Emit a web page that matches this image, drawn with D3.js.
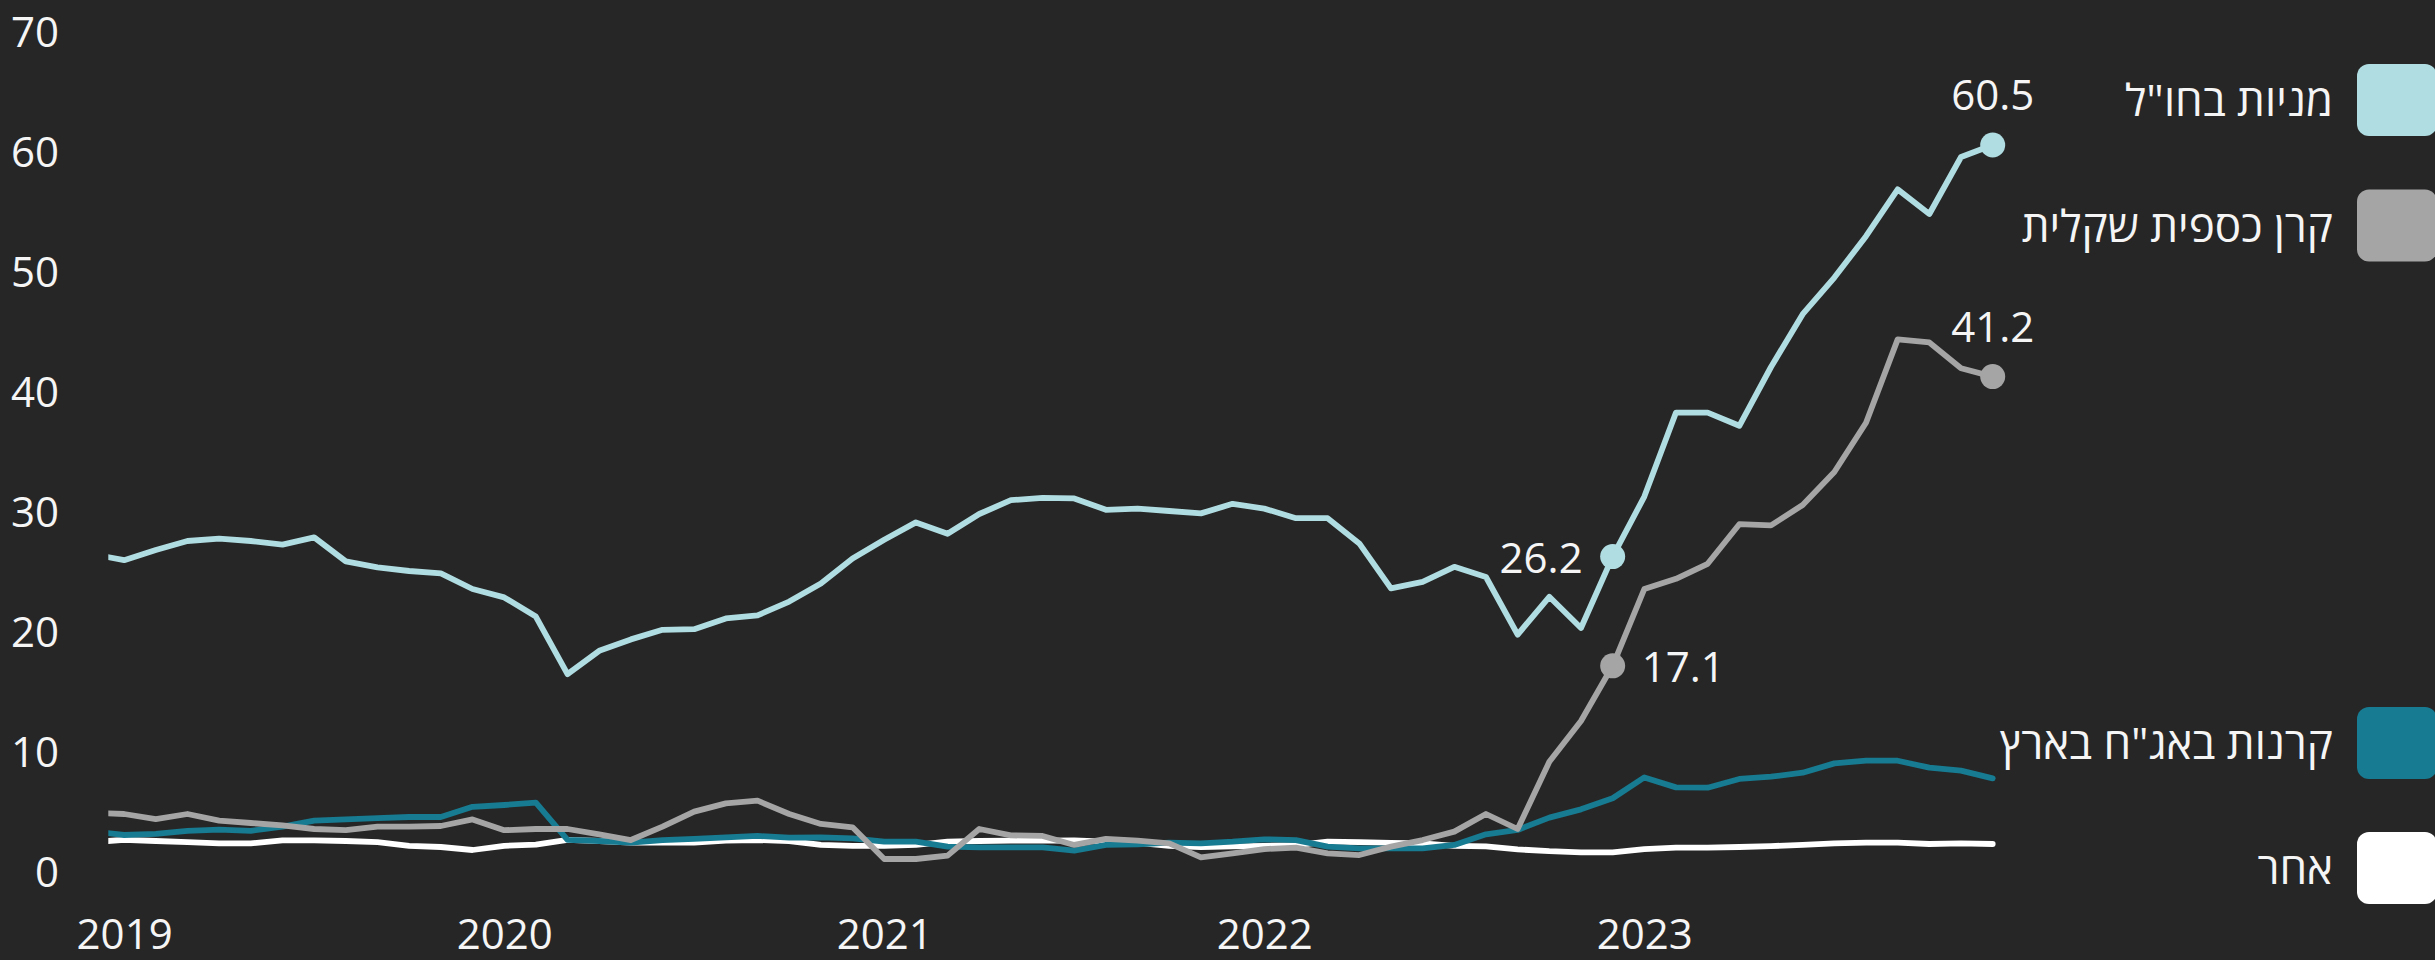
<!DOCTYPE html>
<html>
  <head>
    <meta charset="utf-8">
    <script src="https://d3js.org/d3.v7.min.js"></script>
    <style>
        body {
            margin: 0;
            background: #262626;
        }
        text {
            font-family: "Open Sans", "DejaVu Sans", sans-serif;
            fill: #f5f5f5;
        }
        .series {
            fill: none;
            stroke-width: 5.8px;
            stroke-linejoin: round;
            stroke-linecap: round;
        }
    </style>
  </head>
  <body>
    <div id="chart"></div>
<script>

// months Dec 2018 .. Dec 2023 (index -1 .. 59)
var months = d3.range(-1, 60);
var yearTicks = [0, 12, 24, 36, 48];
var yearLabels = ["2019", "2020", "2021", "2022", "2023"];
var yTicks = [0, 10, 20, 30, 40, 50, 60, 70];

var seriesNames = ['מניות בחו"ל', "קרן כספית שקלית", 'קרנות באג"ח בארץ', "אחר"];
var seriesColors = ["#b0dde2", "#a5a5a5", "#177b91", "#ffffff"];

var foreignStocks = [26.4,
  25.9, 26.75, 27.5, 27.7, 27.5, 27.2, 27.8, 25.8, 25.3, 25.0, 24.8, 23.5,
  22.8, 21.2, 16.4, 18.35, 19.3, 20.1, 20.15, 21.05, 21.3, 22.45, 23.95, 26.05,
  27.6, 29.05, 28.1, 29.75, 30.9, 31.1, 31.05, 30.1, 30.2, 30.0, 29.8, 30.6,
  30.2, 29.4, 29.4, 27.3, 23.55, 24.1, 25.35, 24.5, 19.7, 22.85, 20.25, 26.2,
  31.2, 38.2, 38.2, 37.1, 42.0, 46.4, 49.45, 52.9, 56.8, 54.75, 59.5, 60.5];

var moneyMarket = [4.85,
  4.75, 4.33, 4.75, 4.2, 4.0, 3.8, 3.5, 3.4, 3.7, 3.7, 3.75, 4.3,
  3.4, 3.5, 3.5, 3.05, 2.58, 3.7, 4.95, 5.64, 5.86, 4.75, 3.92, 3.64,
  1.0, 1.0, 1.28, 3.5, 2.97, 2.92, 2.17, 2.67, 2.53, 2.31, 1.14, 1.47,
  1.83, 1.94, 1.47, 1.33, 2.03, 2.58, 3.28, 4.75, 3.5, 9.1, 12.5, 17.1,
  23.5, 24.35, 25.6, 28.9, 28.8, 30.5, 33.25, 37.35, 44.3, 44.05, 41.9, 41.2];

var localBonds = [3.3,
  3.0, 3.1, 3.35, 3.45, 3.35, 3.7, 4.2, 4.3, 4.4, 4.5, 4.5, 5.35,
  5.5, 5.7, 2.6, 2.5, 2.36, 2.58, 2.67, 2.8, 2.92, 2.78, 2.8, 2.72,
  2.44, 2.44, 2.03, 1.97, 1.97, 1.97, 1.7, 2.17, 2.22, 2.36, 2.31, 2.44,
  2.64, 2.58, 2.03, 1.89, 1.89, 1.89, 2.17, 3.06, 3.42, 4.45, 5.14, 6.06,
  7.8, 6.97, 6.94, 7.67, 7.86, 8.19, 8.97, 9.19, 9.19, 8.61, 8.36, 7.72];

var other = [2.4,
  2.6, 2.5, 2.4, 2.3, 2.3, 2.55, 2.55, 2.5, 2.4, 2.1, 2.0, 1.75,
  2.1, 2.2, 2.6, 2.5, 2.36, 2.36, 2.36, 2.53, 2.58, 2.5, 2.17, 2.1,
  2.1, 2.17, 2.44, 2.5, 2.53, 2.53, 2.55, 2.45, 2.35, 2.1, 2.0, 2.05,
  2.1, 2.15, 2.45, 2.4, 2.35, 2.3, 2.1, 2.05, 1.8, 1.65, 1.56, 1.56,
  1.83, 1.94, 1.94, 2.0, 2.08, 2.17, 2.31, 2.36, 2.36, 2.25, 2.31, 2.25];

// labelled points: [series, month index, side]
var callouts = [
  [0, 47, "left"], [1, 47, "right"], [0, 59, "top"], [1, 59, "top"]
];

var allSeries = [foreignStocks, moneyMarket, localBonds, other];

var width = 2435;
var height = 960;

var x = d3.scaleLinear().domain([-0.5, 59]).range([108.3, 1992.7]);
var y = d3.scaleLinear().domain([0, 70]).range([871, 31]);

var svg = d3.select('#chart').append('svg')
  .attr('width', width)
  .attr('height', height)
  .style('background', '#262626');

svg.append('clipPath').attr('id', 'plotclip')
  .append('rect')
  .attr('x', x(-0.5)).attr('y', 0)
  .attr('width', width - x(-0.5)).attr('height', height);

// y axis
var yAxis = svg.append('g')
  .attr('transform', 'translate(59,0)')
  .call(d3.axisLeft(y).tickValues(yTicks).tickSize(0).tickPadding(0));
yAxis.select('.domain').remove();
yAxis.selectAll('text')
  .attr('dy', '0.36em')
  .style('font-size', '42px')
  .style('font-family', '"Open Sans", "DejaVu Sans", sans-serif')
  .attr('fill', '#f5f5f5');

// x axis
var xAxis = svg.append('g')
  .attr('transform', 'translate(0,919)')
  .call(d3.axisBottom(x).tickValues(yearTicks).tickSize(0).tickPadding(0)
    .tickFormat(function (d, i) { return yearLabels[i]; }));
xAxis.select('.domain').remove();
xAxis.selectAll('text')
  .style('font-size', '42px')
  .style('font-family', '"Open Sans", "DejaVu Sans", sans-serif')
  .attr('fill', '#f5f5f5');

var line = d3.line()
  .x(function (d, i) { return x(months[i]); })
  .y(function (d) { return y(d); });

// draw last series first so the first one ends on top
var plot = svg.append('g').attr('clip-path', 'url(#plotclip)');
plot.selectAll('path.series')
  .data(allSeries.map(function (s, i) { return { values: s, idx: i }; }).reverse())
  .enter()
  .append('path')
  .attr('class', 'series')
  .attr('stroke', function (d) { return seriesColors[d.idx]; })
  .attr('d', function (d) { return line(d.values); });

// callout dots and values
callouts.forEach(function (c) {
  var s = c[0], m = c[1], side = c[2];
  var v = allSeries[s][m + 1];
  var cx = x(m), cy = y(v);
  svg.append('circle')
    .attr('cx', cx).attr('cy', cy).attr('r', 12.5)
    .attr('fill', seriesColors[s]);
  var t = svg.append('text')
    .style('font-size', '42px')
    .text(d3.format('.1f')(v));
  if (side == "left") {
    t.attr('x', cx - 30).attr('y', cy + 16).attr('text-anchor', 'end');
  } else if (side == "right") {
    t.attr('x', cx + 29).attr('y', cy + 16).attr('text-anchor', 'start');
  } else {
    t.attr('x', cx).attr('y', cy - 35).attr('text-anchor', 'middle');
  }
});

// legend
var legendY = [100, 225.5, 743, 868];
var legend = svg.append('g');
seriesNames.forEach(function (name, i) {
  legend.append('rect')
    .attr('x', 2357).attr('y', legendY[i] - 36)
    .attr('width', 80).attr('height', 72)
    .attr('rx', 12)
    .attr('fill', seriesColors[i]);
  legend.append('text')
    .attr('x', 2333).attr('y', legendY[i] + 16)
    .attr('text-anchor', 'end')
    .style('font-size', '44px')
    .text(name);
});

</script>
  </body>
</html>
